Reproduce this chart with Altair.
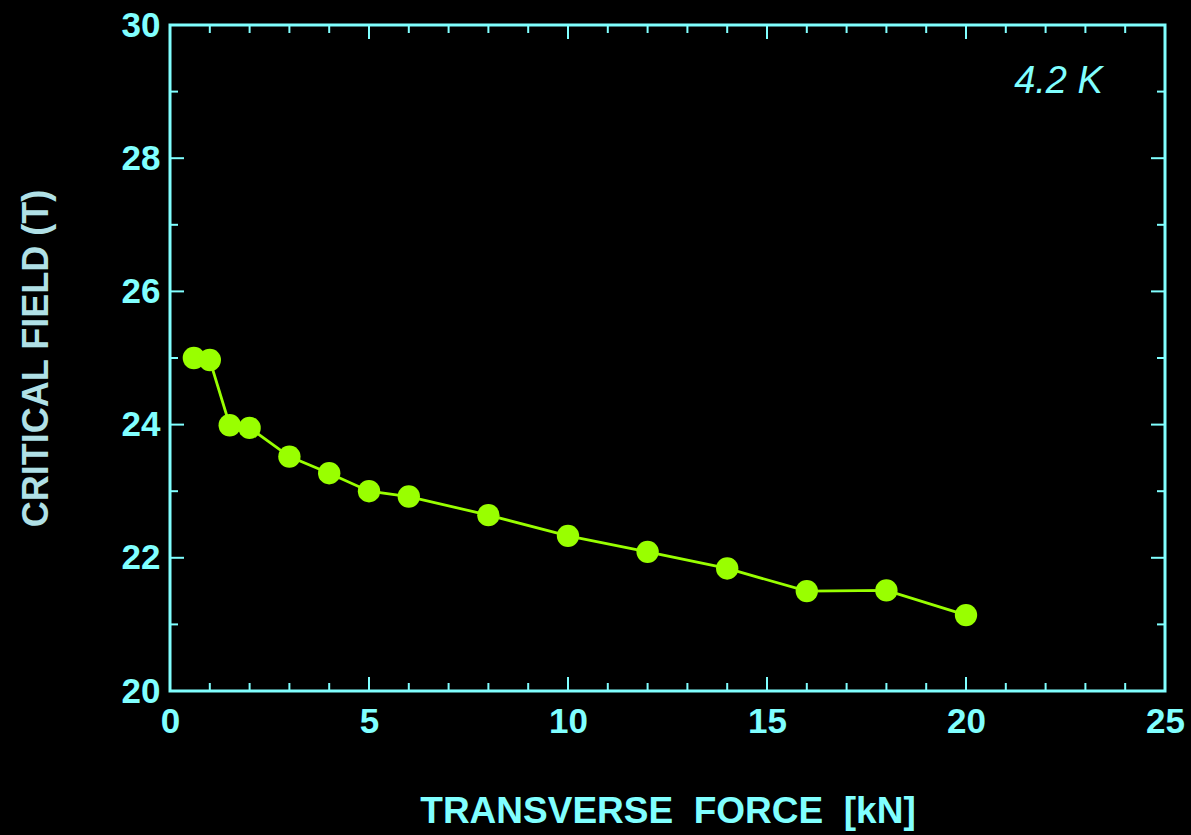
import altair as alt
import pandas as pd

# Critical field vs transverse force at 4.2 K
force_kn = [0.6, 1.0, 1.5, 2.0, 3.0, 4.0, 5.0, 6.0, 8.0, 10.0, 12.0, 14.0, 16.0, 18.0, 20.0]
critical_field_t = [25.0, 24.97, 23.99, 23.95, 23.52, 23.27, 23.0, 22.92, 22.64, 22.33, 22.09, 21.84, 21.5, 21.51, 21.14]

x_major = [0, 5, 10, 15, 20, 25]
x_minor = [v for v in range(0, 26) if v % 5 != 0]
y_major = [20, 22, 24, 26, 28, 30]
y_minor = [21, 23, 25, 27, 29]

W, H = 995, 666
CYAN = "#80FFFF"
GREEN = "#99FF00"
FONT = "Liberation Sans"
NB = "\u00a0"

df = pd.DataFrame({"force": force_kn, "field": critical_field_t})

xs = alt.Scale(domain=[0, 25], nice=False)
ys = alt.Scale(domain=[20, 30], nice=False)

x_axis = alt.Axis(values=x_major, format="d", ticks=False, domain=False, grid=False,
                  labelFont=FONT, labelFontSize=35, labelFontWeight="bold", labelColor=CYAN,
                  labelPadding=13, labelFlush=False,
                  title=f"TRANSVERSE{NB}{NB}FORCE{NB}{NB}[kN]", titleFont=FONT,
                  titleFontSize=37, titleFontWeight="bold", titleColor=CYAN,
                  titleBaseline="alphabetic", titleY=131)
y_axis = alt.Axis(values=y_major, format="d", ticks=False, domain=False, grid=False,
                  labelFont=FONT, labelFontSize=35, labelFontWeight="bold", labelColor=CYAN,
                  labelPadding=10, labelFlush=False,
                  title="CRITICAL FIELD (T)", titleFont=FONT,
                  titleFontSize=36, titleFontWeight="bold", titleColor="#B0E0E6",
                  titleBaseline="alphabetic", titleX=-123)

line = alt.Chart(df).mark_line(color=GREEN, strokeWidth=2.8).encode(
    x=alt.X("force:Q", scale=xs, axis=x_axis),
    y=alt.Y("field:Q", scale=ys, axis=y_axis),
)
points = alt.Chart(df).mark_point(filled=True, color=GREEN, opacity=1, size=500, shape="circle").encode(
    x=alt.X("force:Q", scale=xs),
    y=alt.Y("field:Q", scale=ys),
)


def x_ticks(vals, length):
    d = pd.DataFrame({"v": vals})
    bottom = alt.Chart(d).mark_rule(color=CYAN, strokeWidth=2).encode(
        x=alt.X("v:Q", scale=xs), y=alt.value(H), y2=alt.value(H - length))
    top = alt.Chart(d).mark_rule(color=CYAN, strokeWidth=2).encode(
        x=alt.X("v:Q", scale=xs), y=alt.value(0), y2=alt.value(length))
    return [bottom, top]


def y_ticks(vals, length):
    d = pd.DataFrame({"v": vals})
    left = alt.Chart(d).mark_rule(color=CYAN, strokeWidth=2).encode(
        y=alt.Y("v:Q", scale=ys), x=alt.value(0), x2=alt.value(length))
    right = alt.Chart(d).mark_rule(color=CYAN, strokeWidth=2).encode(
        y=alt.Y("v:Q", scale=ys), x=alt.value(W), x2=alt.value(W - length))
    return [left, right]


ticks = x_ticks(x_major, 14) + x_ticks(x_minor, 8) + y_ticks(y_major, 14) + y_ticks(y_minor, 8)

label = alt.Chart(pd.DataFrame({"x": [23.44], "y": [29.14], "t": ["4.2 K"]})).mark_text(
    font=FONT, fontSize=38, fontStyle="italic", color=CYAN, align="right", baseline="middle"
).encode(x=alt.X("x:Q", scale=xs), y=alt.Y("y:Q", scale=ys), text="t:N")

chart = alt.layer(line, points, *ticks, label).properties(
    width=W, height=H,
    background="black",
    autosize=alt.AutoSizeParams(type="none"),
    padding={"left": 170, "top": 25, "right": 26, "bottom": 144},
).configure_view(stroke=CYAN, strokeWidth=3)

chart.save("out.html", embed_options={"renderer": "svg", "actions": False})
